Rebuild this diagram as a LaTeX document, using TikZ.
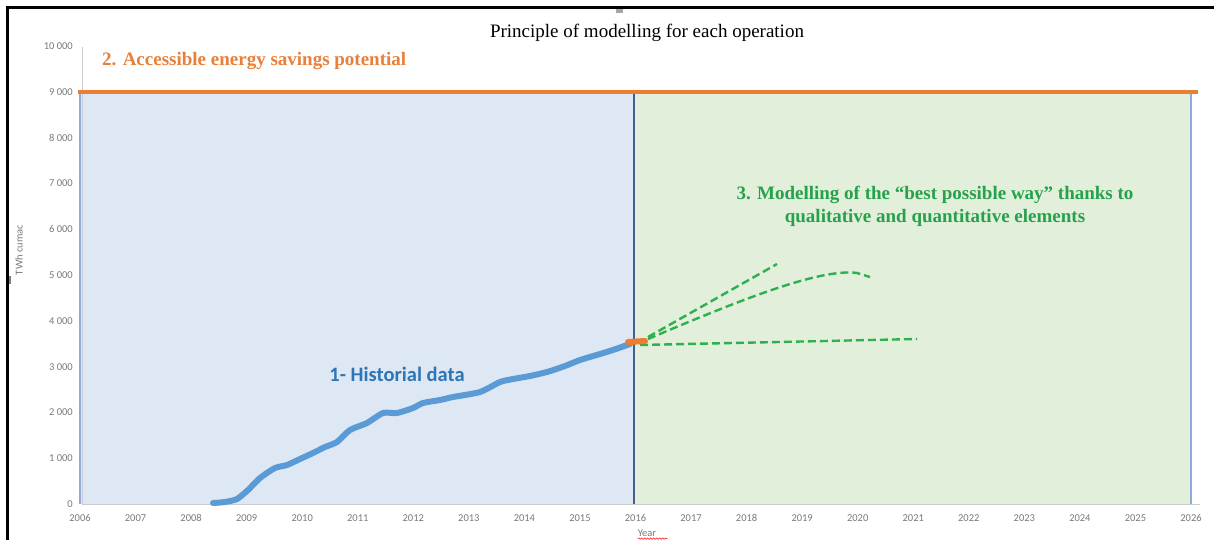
\documentclass[tikz,border=0pt]{standalone}
\usepackage{fontspec}
\setmainfont{Liberation Serif}
\newfontfamily\calib{Carlito}
\usetikzlibrary{decorations.pathmorphing}
\definecolor{bluefill}{HTML}{DDE8F4}
\definecolor{greenfill}{HTML}{E2EFDA}
\definecolor{orangeline}{HTML}{ED7D31}
\definecolor{orangetext}{HTML}{E8803A}
\definecolor{divider}{HTML}{41618A}
\definecolor{edgeblue}{HTML}{8EA9DB}
\definecolor{datablue}{HTML}{5B9BD5}
\definecolor{greendash}{HTML}{2DB04F}
\definecolor{greentext}{HTML}{25A24B}
\definecolor{histblue}{HTML}{2E75B6}
\definecolor{ticktext}{HTML}{7A7A7A}
\begin{document}
\begin{tikzpicture}[x=1pt,y=-1pt,
  ticklab/.style={font=\calib\fontsize{10.5}{11}\selectfont, text=ticktext, inner sep=0pt},
  bigtext/.style={font=\bfseries\fontsize{19}{23}\selectfont, inner sep=0pt},
  greenpath/.style={draw=greendash, line width=2.4pt, dash pattern=on 8pt off 4pt}
]
\useasboundingbox (0,0) rectangle (1214,540);
\fill[white] (0,0) rectangle (1214,540);
% frame
\draw[black, line width=2.8pt] (7.5,540) -- (7.5,7.5) -- (1214,7.5);
\fill[gray!70] (616,9) rectangle (623,13);
\draw[gray, line width=1.5pt] (10,276) -- (10,284);
% regions
\fill[bluefill] (80,92) rectangle (634,504);
\fill[greenfill] (634,92) rectangle (1191,504);
\draw[gray!40, line width=0.7pt] (82,47) -- (82,504) -- (1200,504);
\draw[edgeblue, line width=1.2pt] (80,92) -- (80,504);
\draw[edgeblue, line width=1.5pt] (1191,92) -- (1191,504);
\draw[divider, line width=2pt] (634,92) -- (634,504);
\draw[orangeline, line width=4pt] (78,92) -- (1198,92);
% y ticks
\foreach \k/\lab in {0/0,1/1 000,2/2 000,3/3 000,4/4 000,5/5 000,6/6 000,7/7 000,8/8 000,9/9 000,10/10 000}
  \node[ticklab, anchor=east] (yt\k) at (73,{504-45.78*\k}) {\lab};
% x ticks
\foreach \i in {0,...,20}{
  \pgfmathtruncatemacro{\yr}{2006+\i}
  \node[ticklab] (xt\i) at ({80+55.55*\i},518) {\yr};
}
\node[ticklab] (year) at (647,533) {Year};
\draw[red, line width=0.5pt, decorate, decoration={snake, amplitude=0.7pt, segment length=3pt}] (year.south west) ++(0,2) -- ++(30,0);
\node[ticklab, rotate=90] (ylab) at (19,250) {TWh cumac};
% historical data
\draw[datablue, line width=6pt, line cap=round, line join=round]
  plot[smooth, tension=0.4] coordinates {(213,503) (225,502) (237,499) (248,490) (260,478) (275,468) (287,465) (300,459) (313,453) (325,447) (337,442) (350,430) (367,423) (383,413) (397,413) (413,408) (423,403) (440,400) (453,397) (480,392) (500,382) (513,379) (530,376) (547,372) (565,366) (580,360) (600,354) (613,350) (630,344)};
% forecast
\coordinate (s1) at (648,337);
\coordinate (s2) at (648,339);
\coordinate (s3) at (640,345);
\coordinate (e1) at (777,264);
\coordinate (e2) at (870,277);
\coordinate (e3) at (917,339);
\draw[greenpath] (s1) -- (e1);
\draw[greenpath] (s2) .. controls (740,300) and (820,268) .. (857,273) -- (e2);
\draw[greenpath] (s3) -- (e3);
\draw[orangeline, line width=6pt, line cap=round] (628,342) -- (645,341);
% texts
\node[font=\fontsize{19}{23}\selectfont, inner sep=0pt] (title) at (647,33) {Principle of modelling for each operation};
\node[bigtext, text=orangetext, anchor=west] (pot) at (102,61) {2. Accessible energy savings potential};
\node[bigtext, text=greentext, align=center] (mod) at (935,206) {3. Modelling of the “best possible way” thanks to\\qualitative and quantitative elements};
\node[font=\calib\bfseries\fontsize{20.5}{24}\selectfont, text=histblue, inner sep=0pt] (hist) at (397,374) {1- Historial data};
\end{tikzpicture}
\end{document}
